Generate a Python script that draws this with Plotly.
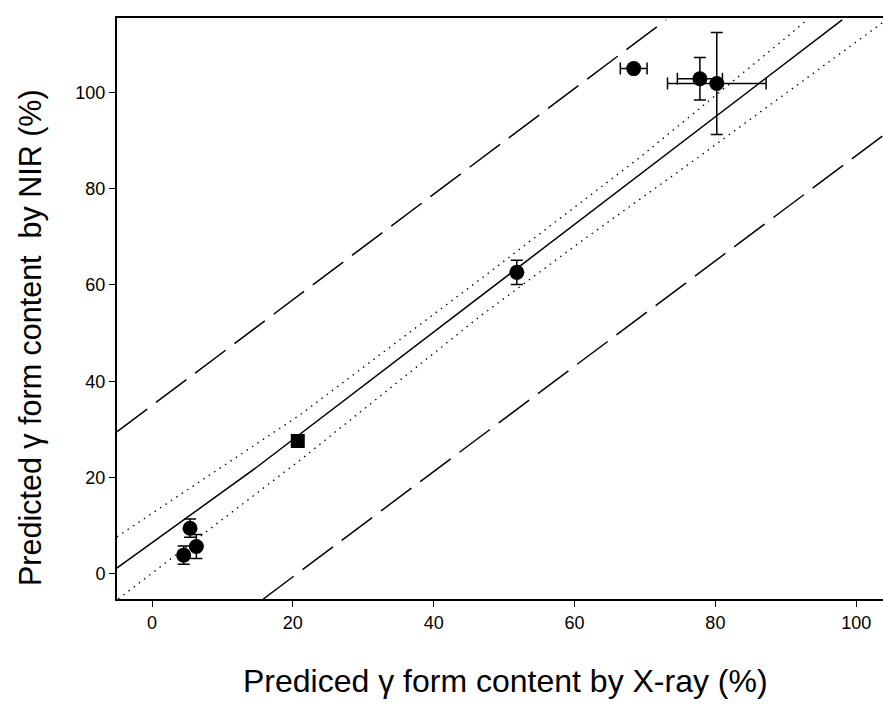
import plotly.graph_objects as go

# ---- data ----
circle_x = [4.5, 5.4, 6.3, 51.8, 68.4, 77.8, 80.2]
circle_y = [3.9, 9.5, 5.7, 62.6, 104.9, 102.8, 101.8]
circle_xerr = [0.0, 0.0, 0.0, 0.0, 1.9, 3.2, 7.0]
circle_yerr = [1.9, 1.9, 2.5, 2.5, 0.5, 4.4, 10.6]

square_x = [20.7]
square_y = [27.6]

fit_x = [-5.0, 15.0, 98.0]
fit_y = [1.2, 22.3, 115.0]

ci_upper_x = [-5.0, 21.0, 47.0, 69.3, 89.6, 93.0]
ci_upper_y = [7.7, 33.0, 61.6, 86.5, 110.8, 115.0]
ci_lower_x = [-4.8, 21.0, 46.6, 60.8, 77.4, 92.0, 103.8]
ci_lower_y = [-5.2, 23.6, 53.5, 68.9, 86.3, 101.9, 114.5]

pi_upper_x = [-5.0, 73.0]
pi_upper_y = [29.5, 115.0]
pi_lower_x = [15.8, 103.8]
pi_lower_y = [-5.2, 91.0]

x_ticks = [0, 20, 40, 60, 80, 100]
y_ticks = [0, 20, 40, 60, 80, 100]

x_title = "Prediced \u03b3 form content by X-ray (%)"
y_title = "Predicted \u03b3 form content  by NIR (%)"

fig = go.Figure()

fig.add_trace(go.Scatter(x=pi_upper_x, y=pi_upper_y, mode="lines",
                         line=dict(color="black", width=1.5, dash="38px,11px")))
fig.add_trace(go.Scatter(x=pi_lower_x, y=pi_lower_y, mode="lines",
                         line=dict(color="black", width=1.5, dash="38px,11px")))
fig.add_trace(go.Scatter(x=ci_upper_x, y=ci_upper_y, mode="lines",
                         line=dict(color="black", width=1.3, dash="1.5px,5px")))
fig.add_trace(go.Scatter(x=ci_lower_x, y=ci_lower_y, mode="lines",
                         line=dict(color="black", width=1.3, dash="1.5px,5px")))
fig.add_trace(go.Scatter(x=fit_x, y=fit_y, mode="lines",
                         line=dict(color="black", width=1.5)))

fig.add_trace(go.Scatter(
    x=circle_x, y=circle_y, mode="markers",
    marker=dict(symbol="circle", size=15, color="black"),
    error_x=dict(type="data", array=circle_xerr, color="black", thickness=1.5, width=6),
    error_y=dict(type="data", array=circle_yerr, color="black", thickness=1.5, width=6),
))
fig.add_trace(go.Scatter(
    x=square_x, y=square_y, mode="markers",
    marker=dict(symbol="square", size=14, color="black"),
))

# plot area in page pixels: left 117, right 883, top 18, bottom 599
W, H = 883, 705
PL, PR, PT, PB = 117, 883, 18, 599
PW, PH = PR - PL, PB - PT

fig.update_layout(
    width=W, height=H,
    margin=dict(l=PL, r=W - PR, t=PT, b=H - PB),
    plot_bgcolor="white", paper_bgcolor="white",
    showlegend=False,
    annotations=[
        dict(text=x_title, xref="paper", yref="paper",
             x=(505 - PL) / PW, y=-(681 - PB) / PH,
             xanchor="center", yanchor="middle", showarrow=False,
             font=dict(family="Liberation Sans, Arial", size=32, color="black")),
        dict(text=y_title, xref="paper", yref="paper",
             x=(30 - PL) / PW, y=(PB - 338) / PH,
             xanchor="center", yanchor="middle", showarrow=False, textangle=-90,
             font=dict(family="Liberation Sans, Arial", size=30.5, color="black")),
    ],
)
fig.update_xaxes(
    range=[-4.97, 103.8], tickvals=x_ticks, ticktext=[str(v) for v in x_ticks],
    showgrid=False, zeroline=False, showline=True, linecolor="black", linewidth=2,
    mirror=True, ticks="outside", ticklen=6, tickcolor="black", automargin=False,
    tickfont=dict(family="Liberation Sans, Arial", size=18, color="black"),
)
fig.update_yaxes(
    range=[-5.2, 115.4], tickvals=y_ticks, ticktext=[str(v) for v in y_ticks],
    showgrid=False, zeroline=False, showline=True, linecolor="black", linewidth=2,
    mirror=False, ticks="outside", ticklen=6, tickcolor="black", automargin=False,
    tickfont=dict(family="Liberation Sans, Arial", size=18, color="black"),
)

fig.write_html(
    "out.html",
    config={"displayModeBar": False},
    post_script="document.body.style.margin='0';document.body.style.overflow='hidden';",
)
